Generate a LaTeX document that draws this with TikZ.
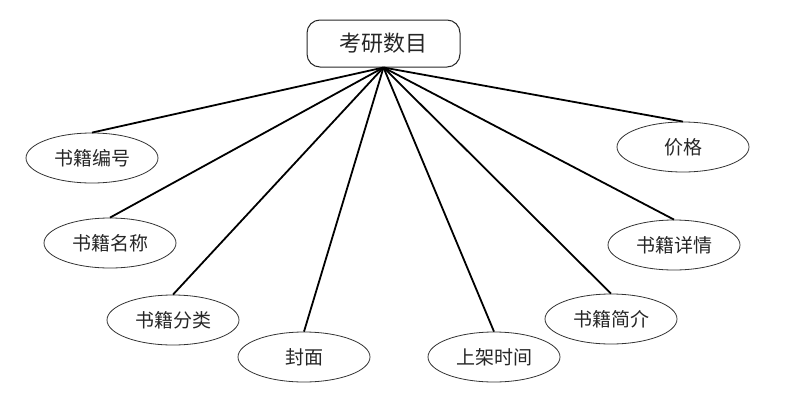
\documentclass[tikz,border=0pt]{standalone}
\usepackage{fontspec}
\newfontfamily\cjk{Noto Sans CJK SC}
\usetikzlibrary{shapes.geometric}

\begin{document}
\begin{tikzpicture}[
    x=1pt, y=-1pt,
    entity/.style={rectangle, draw=black!85, line width=1pt, rounded corners=13pt,
                minimum width=153pt, minimum height=47pt,
                font=\cjk\fontsize{22}{26}\selectfont, text=black!85},
    attr/.style={ellipse, draw=black!80, line width=0.8pt,
                minimum width=132pt, minimum height=50pt, inner sep=0pt,
                font=\cjk\fontsize{19}{23}\selectfont, text=black!85},
    link/.style={line width=1.8pt, black}
]
\useasboundingbox (0,0) rectangle (797,407);

\node[entity] (kaoyan) at (383.5,43.5) {考研数目};

\node[attr] (bianhao) at (92,158)  {书籍编号};
\node[attr] (mingcheng) at (110,243) {书籍名称};
\node[attr] (fenlei)  at (173,320) {书籍分类};
\node[attr] (fengmian) at (304,357) {封面};
\node[attr] (shangjia) at (494,357) {上架时间};
\node[attr] (jianjie) at (611,319) {书籍简介};
\node[attr] (xiangqing) at (674,245) {书籍详情};
\node[attr] (jiage)   at (683,147) {价格};

\foreach \n in {bianhao, mingcheng, fenlei, fengmian, shangjia, jianjie, xiangqing, jiage}
    \draw[link] (kaoyan.south) -- (\n.north);
\end{tikzpicture}
\end{document}
